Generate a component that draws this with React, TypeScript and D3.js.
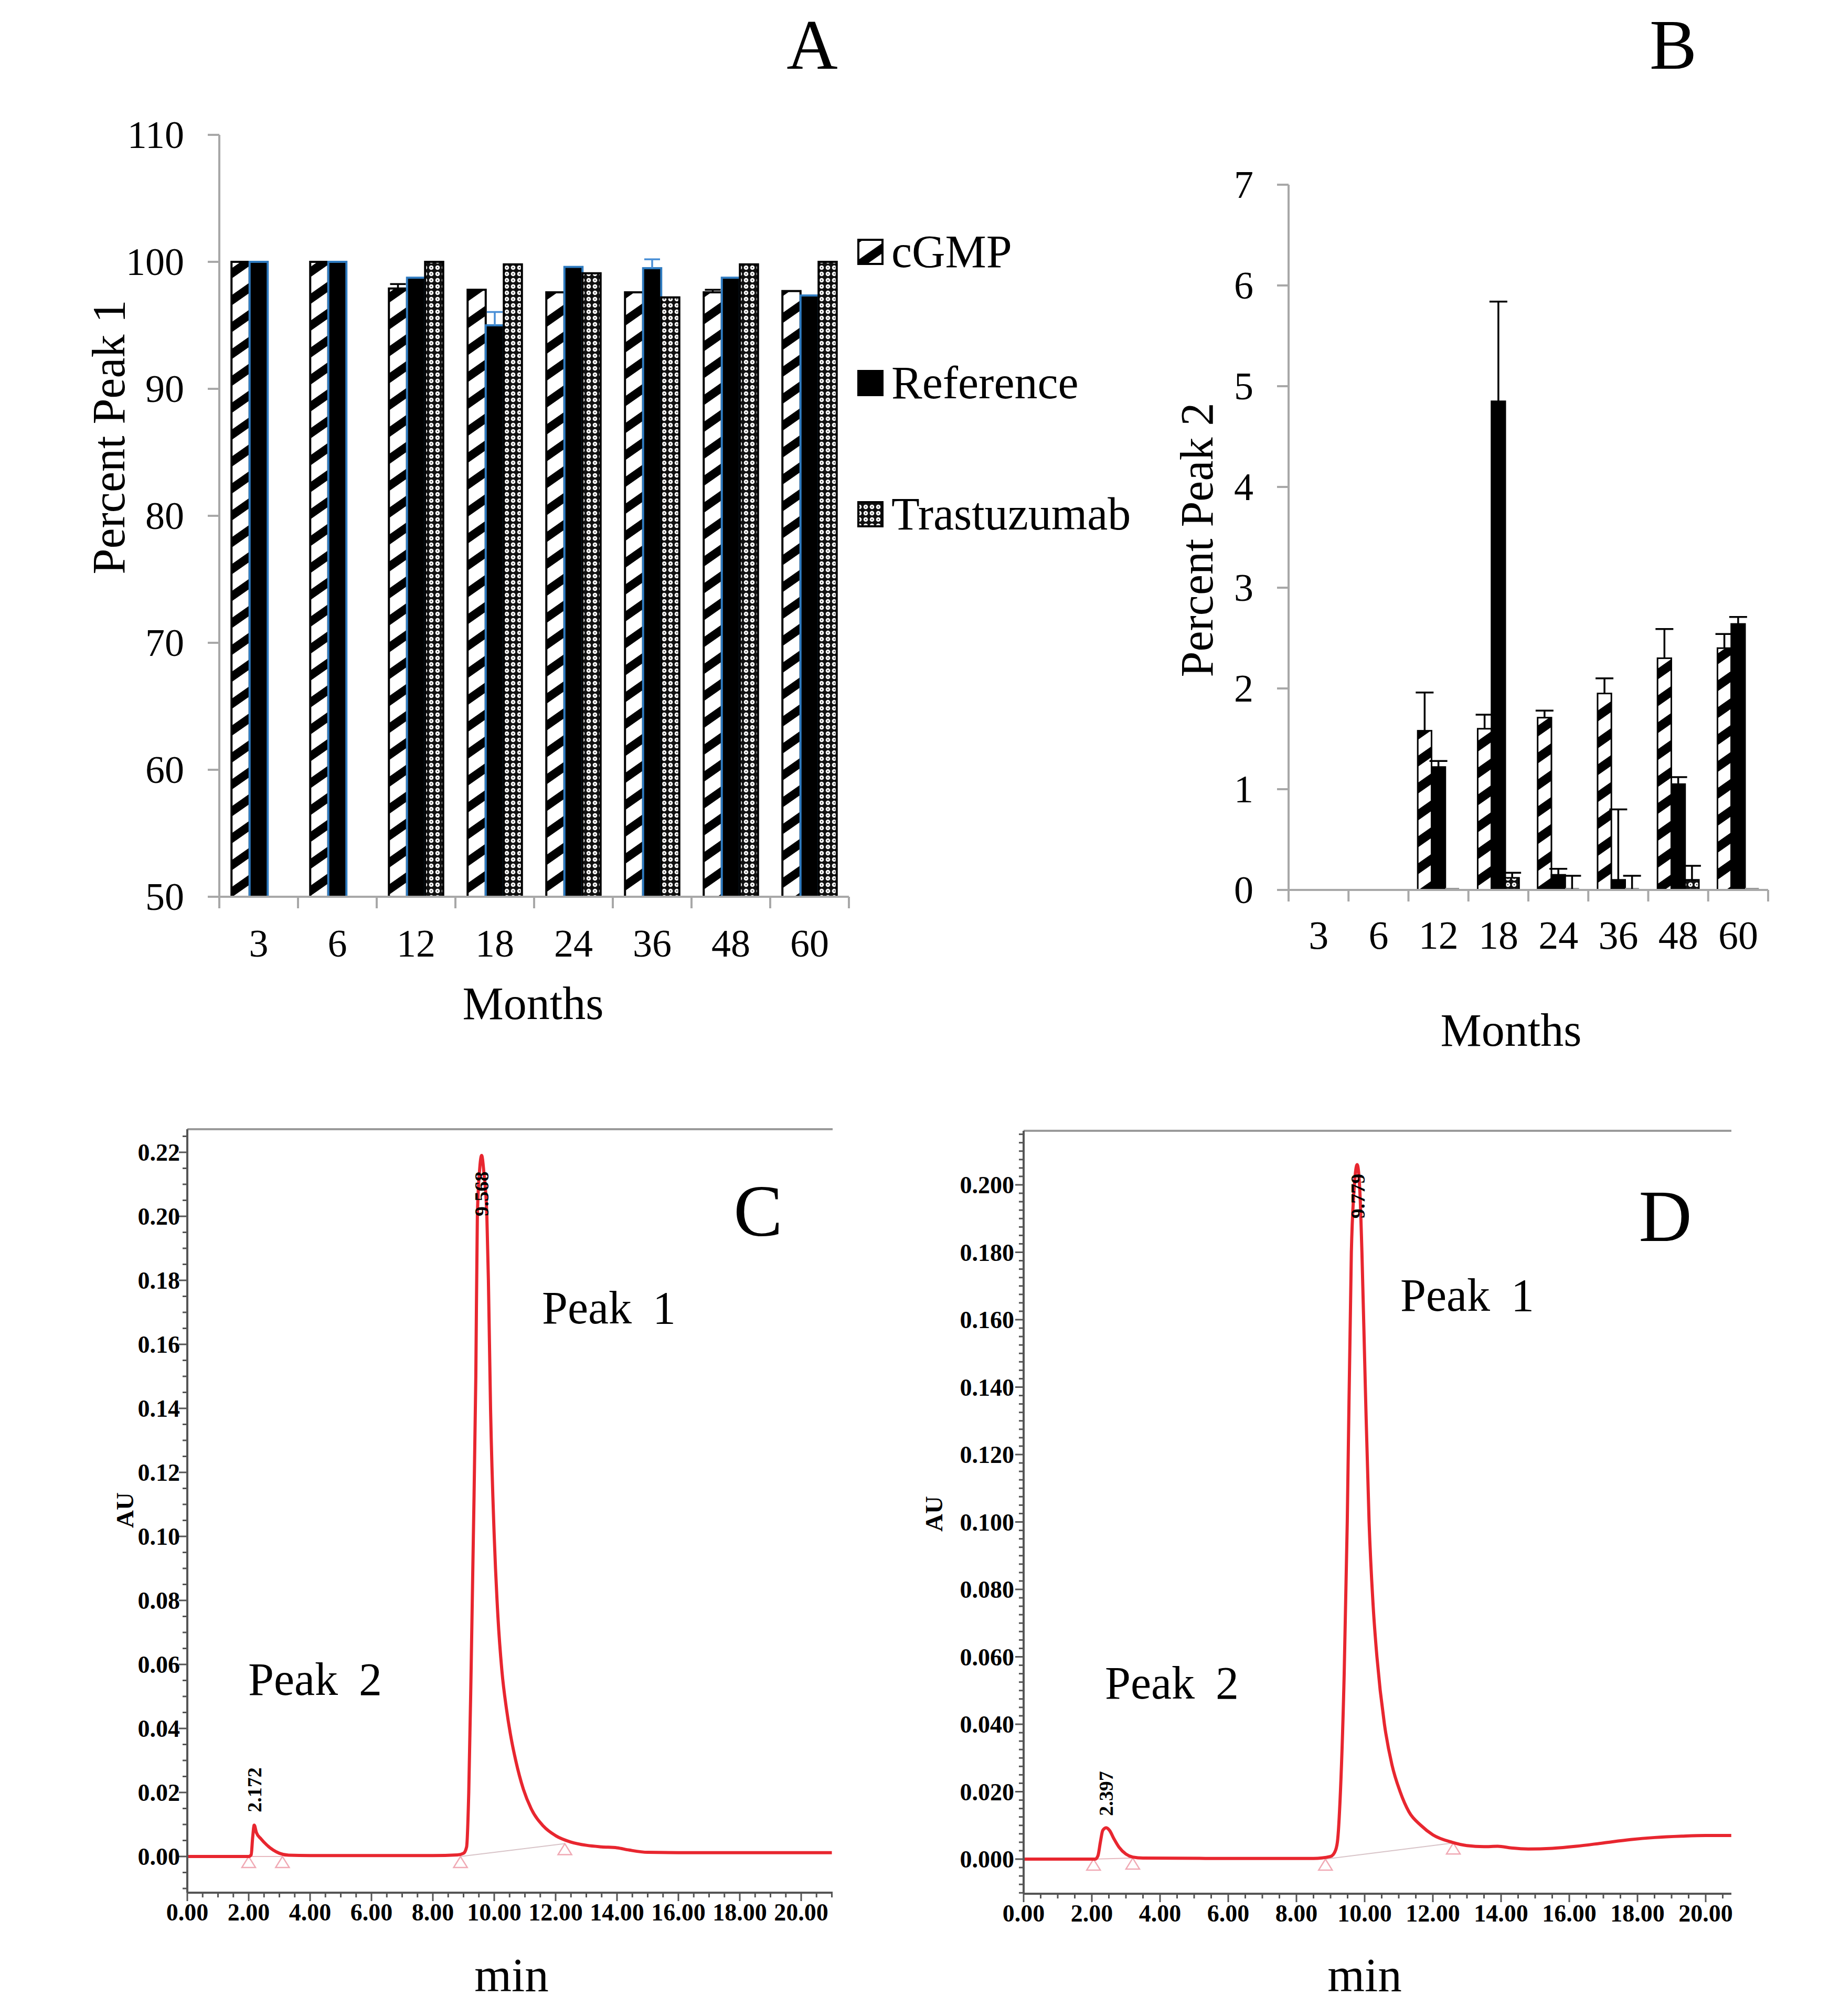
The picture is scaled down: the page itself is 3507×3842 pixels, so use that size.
import React from "react";
import * as d3 from "d3";

// ---------------- DATA ----------------
const months = ["3", "6", "12", "18", "24", "36", "48", "60"];
const seriesNames = ["cGMP", "Reference", "Trastuzumab"];

// Panel A: Percent Peak 1
const peak1Cgmp = [100, 100, 97.9, 97.8, 97.6, 97.6, 97.6, 97.7];
const peak1CgmpErr = [0, 0, 0.35, 0, 0, 0, 0.2, 0];
const peak1Ref = [100, 100, 98.75, 95.0, 99.6, 99.5, 98.75, 97.35];
const peak1RefErr = [0, 0, 0, 1.05, 0, 0.7, 0, 0];
const peak1Trast: (number | null)[] = [null, null, 100, 99.8, 99.1, 97.2, 99.8, 100];

// Panel B: Percent Peak 2
const peak2Cgmp: (number | null)[] = [null, null, 1.58, 1.6, 1.71, 1.95, 2.3, 2.4];
const peak2CgmpErr: (number | null)[] = [null, null, 0.38, 0.14, 0.07, 0.15, 0.29, 0.14];
const peak2Ref: (number | null)[] = [null, null, 1.22, 4.85, 0.15, 0.1, 1.05, 2.64];
const peak2RefErr: (number | null)[] = [null, null, 0.06, 0.99, 0.06, 0.7, 0.07, 0.07];
const peak2Trast: (number | null)[] = [null, null, 0, 0.12, 0, 0, 0.1, 0];
const peak2TrastErr: (number | null)[] = [null, null, 0, 0.05, 0.14, 0.14, 0.14, 0];

// Panel C: chromatogram (min, AU)
const traceCTime = [0, 2.0, 2.08, 2.13, 2.18, 2.25, 2.4, 2.6, 2.8, 3.0, 3.3, 4.0, 6.0, 8.0, 8.8, 9.0, 9.1, 9.17, 9.25, 9.32, 9.4, 9.45, 9.52, 9.59, 9.66, 9.76, 9.81, 9.88, 10.0, 10.12, 10.25, 10.4, 10.55, 10.7, 10.95, 11.2, 11.6, 12.0, 12.5, 13.0, 13.5, 14.0, 14.4, 15.0, 16.0, 18.0, 21.0];
const traceCAU = [0, 0, 0.0005, 0.006, 0.0098, 0.0075, 0.0055, 0.0035, 0.002, 0.001, 0.0004, 0.0003, 0.0003, 0.0003, 0.0005, 0.001, 0.003, 0.02, 0.06, 0.1, 0.15, 0.2, 0.214, 0.219, 0.214, 0.2, 0.18, 0.14, 0.1, 0.075, 0.058, 0.046, 0.037, 0.03, 0.021, 0.015, 0.0095, 0.0065, 0.0045, 0.0035, 0.003, 0.0027, 0.002, 0.0013, 0.0012, 0.0012, 0.0012];
const peakCTimes = [2.172, 9.568];
const peakCLabels = ["2.172", "9.568"];
const peakCLabelAU = [0.0138, 0.2];
const intCTimes = [2.0, 3.1, 8.9, 12.3];
const intCAU = [0, 0, 0, 0.004];

// Panel D: chromatogram (min, AU)
const traceDTime = [0, 2.1, 2.18, 2.25, 2.32, 2.42, 2.52, 2.65, 2.8, 3.0, 3.2, 3.5, 6.0, 8.5, 9.0, 9.12, 9.2, 9.29, 9.4, 9.49, 9.61, 9.7, 9.78, 9.86, 9.92, 10.02, 10.13, 10.25, 10.36, 10.58, 10.8, 11.04, 11.3, 11.65, 12.0, 12.56, 13.0, 13.5, 13.9, 14.3, 14.8, 15.5, 16.2, 17.0, 17.8, 18.5, 19.3, 20.0, 20.75];
const traceDAU = [0, 0, 0.001, 0.005, 0.0085, 0.0093, 0.0085, 0.006, 0.0035, 0.0015, 0.0006, 0.0003, 0.0002, 0.0002, 0.0008, 0.002, 0.005, 0.02, 0.055, 0.1, 0.18, 0.2, 0.206, 0.198, 0.18, 0.14, 0.1, 0.075, 0.06, 0.04, 0.028, 0.02, 0.014, 0.01, 0.0072, 0.005, 0.004, 0.0037, 0.0038, 0.0033, 0.003, 0.0032, 0.0038, 0.0048, 0.0058, 0.0064, 0.0068, 0.007, 0.007];
const peakDTimes = [2.397, 9.779];
const peakDLabels = ["2.397", "9.779"];
const peakDLabelAU = [0.0128, 0.19];
const intDTimes = [2.05, 3.2, 8.85, 12.6];
const intDAU = [0, 0.0003, 0, 0.0048];

const minTicks = d3.range(0, 21, 2);
const cAUTicks = d3.range(0, 12).map((k) => k * 0.02);
const dAUTicks = d3.range(0, 11).map((k) => k * 0.02);

// ---------------- STYLE ----------------
const SERIF = "'Liberation Serif', 'Times New Roman', serif";
const AXIS_GRAY = "#a8a8a8";
const REF_BLUE = "#2f7bc0";
const TRACE_RED = "#e8262f";

type BarPanelProps = {
  id: string;
  x0: number; x1: number; yTop: number; yBot: number; yDomain: [number, number];
  yTicks: number[];
  series: (number | null)[][];
  errs: (number | null)[][];
  refBlue: boolean;
};

function BarPanel(p: BarPanelProps) {
  const x = d3.scaleBand<string>().domain(months).range([p.x0, p.x1]);
  const y = d3.scaleLinear().domain(p.yDomain).range([p.yBot, p.yTop]);
  const bw = x.bandwidth() * 0.23;
  const off = (x.bandwidth() - 3 * bw) / 2;
  const fills = [`url(#hatch${p.id})`, "#000", `url(#check${p.id})`];
  const base = p.yDomain[0];
  const els: React.ReactNode[] = [];
  months.forEach((m, i) => {
    p.series.forEach((vals, s) => {
      const v = vals[i];
      if (v === null || v === undefined) return;
      const bx = (x(m) as number) + off + s * bw;
      if (v <= base) {
        els.push(<line key={`z${i}-${s}`} x1={bx} x2={bx + bw} y1={y(base) - 2} y2={y(base) - 2} stroke="#999" strokeWidth={4} />);
        return;
      }
      const isRef = s === 1;
      els.push(
        <rect key={`b${i}-${s}`} x={bx} y={y(v)} width={bw} height={y(base) - y(v)} fill={fills[s]}
          stroke={isRef && p.refBlue ? REF_BLUE : "#000"} strokeWidth={p.refBlue ? 4 : 3} />
      );
    });
  });
  const errEls: React.ReactNode[] = [];
  months.forEach((m, i) => {
    p.series.forEach((vals, s) => {
      const v = vals[i];
      const e = p.errs[s] ? p.errs[s][i] : null;
      if (v === null || v === undefined || !e) return;
      const cx = (x(m) as number) + off + s * bw + bw / 2;
      const col = s === 1 && p.refBlue ? "#4a8fd6" : "#000";
      const top = y(v + e);
      const cw = p.refBlue ? 15 : 17;
      errEls.push(
        <g key={`e${i}-${s}`} stroke={col} strokeWidth={3.5}>
          <line x1={cx} x2={cx} y1={y(Math.max(v, base))} y2={top} />
          <line x1={cx - cw} x2={cx + cw} y1={top} y2={top} />
        </g>
      );
    });
  });
  return (
    <g>
      {els}
      {errEls}
      {/* axes */}
      <line x1={p.x0} x2={p.x0} y1={p.yTop} y2={p.yBot} stroke={AXIS_GRAY} strokeWidth={4} />
      <line x1={p.x0 - 22} x2={p.x1} y1={p.yBot} y2={p.yBot} stroke={AXIS_GRAY} strokeWidth={4} />
      {p.yTicks.map((t) => (
        <g key={`yt${t}`}>
          <line x1={p.x0 - 22} x2={p.x0} y1={y(t)} y2={y(t)} stroke={AXIS_GRAY} strokeWidth={4} />
          <text x={p.x0 - 67} y={y(t) + 25} textAnchor="end" fontFamily={SERIF} fontSize={74}>{t}</text>
        </g>
      ))}
      {d3.range(0, months.length + 1).map((k) => {
        const xx = p.x0 + k * x.step();
        return <line key={`xt${k}`} x1={xx} x2={xx} y1={p.yBot} y2={p.yBot + 22} stroke={AXIS_GRAY} strokeWidth={4} />;
      })}
    </g>
  );
}

type ChromProps = {
  x0: number; xEnd: number; x20: number;
  yZero: number; yPerUnit: number; yTopPx: number; yBotPx: number;
  ticks: number[]; tickFmt: (n: number) => string;
  minorY: number; minorYEvery: number;
  time: number[]; au: number[];
  peakT: number[]; peakLab: string[]; peakAU: number[];
  intT: number[]; intAU: number[];
  labelRight: number;
};

function Chrom(p: ChromProps) {
  const x = d3.scaleLinear().domain([0, 20]).range([p.x0, p.x20]);
  const y = d3.scaleLinear().domain([0, 0.1]).range([p.yZero, p.yZero - p.yPerUnit * 0.1]);
  const tMax = x.invert(p.xEnd);
  const auMin = y.invert(p.yBotPx);
  const auMax = y.invert(p.yTopPx);
  const line = d3.line<number>().x((d, i) => x(p.time[i])).y((d) => y(d)).curve(d3.curveMonotoneX);
  const minorX: React.ReactNode[] = [];
  for (let k = 0; k * 0.5 <= tMax + 1e-9; k++) {
    const t = k * 0.5;
    const major = k % 4 === 0;
    minorX.push(<line key={`mx${k}`} x1={x(t)} x2={x(t)} y1={p.yBotPx} y2={p.yBotPx + (major ? 16 : 9)} stroke="#555" strokeWidth={3} />);
  }
  const minorYs: React.ReactNode[] = [];
  const kStart = Math.ceil(auMin / p.minorY);
  const kEnd = Math.floor(auMax / p.minorY);
  for (let k = kStart; k <= kEnd; k++) {
    const v = k * p.minorY;
    const major = k % p.minorYEvery === 0;
    minorYs.push(<line key={`my${k}`} x1={p.x0 - (major ? 16 : 9)} x2={p.x0} y1={y(v)} y2={y(v)} stroke="#555" strokeWidth={3} />);
  }
  return (
    <g>
      {/* top frame line */}
      <line x1={p.x0} x2={p.xEnd} y1={p.yTopPx} y2={p.yTopPx} stroke="#9a9a9a" strokeWidth={4} />
      {/* integration baselines */}
      <line x1={x(p.intT[0])} x2={x(p.intT[1])} y1={y(p.intAU[0])} y2={y(p.intAU[1])} stroke="#e6b9bf" strokeWidth={2} />
      <line x1={x(p.intT[2])} x2={x(p.intT[3])} y1={y(p.intAU[2])} y2={y(p.intAU[3])} stroke="#d8c4c8" strokeWidth={2} />
      {p.intT.map((t, i) => {
        const cx = x(t);
        const cy = y(p.intAU[i]);
        return <path key={`tri${i}`} d={`M${cx},${cy} L${cx - 13},${cy + 21} L${cx + 13},${cy + 21} Z`} fill="none" stroke="#f0a9b4" strokeWidth={2.5} />;
      })}
      <path d={line(p.au) || ""} fill="none" stroke={TRACE_RED} strokeWidth={6} strokeLinejoin="round" />
      {/* axes */}
      <line x1={p.x0} x2={p.x0} y1={p.yTopPx} y2={p.yBotPx} stroke="#555" strokeWidth={4} />
      <line x1={p.x0} x2={p.xEnd} y1={p.yBotPx} y2={p.yBotPx} stroke="#555" strokeWidth={4} />
      {minorX}
      {minorYs}
      {p.ticks.map((t) => (
        <text key={`yl${t}`} x={p.labelRight} y={y(t) + 16} textAnchor="end" fontFamily={SERIF} fontWeight="bold" fontSize={46}>{p.tickFmt(t)}</text>
      ))}
      {minTicks.map((t) => (
        <text key={`xl${t}`} x={x(t)} y={p.yBotPx + 53} textAnchor="middle" fontFamily={SERIF} fontWeight="bold" fontSize={46}>{d3.format(".2f")(t)}</text>
      ))}
      {p.peakT.map((t, i) => (
        <text key={`pk${i}`} transform={`translate(${x(t) + 14},${y(p.peakAU[i])}) rotate(-90)`} fontFamily={SERIF} fontWeight="bold" fontSize={38} textAnchor="start">{p.peakLab[i]}</text>
      ))}
    </g>
  );
}

export default function App() {
  const W = 3507;
  const H = 3842;
  return (
    <svg width={W} height={H} viewBox={`0 0 ${W} ${H}`} style={{ position: "absolute", left: 0, top: 0, background: "#fff" }}>
      <defs>
        <pattern id="hatchA" patternUnits="userSpaceOnUse" width={42} height={20} patternTransform="rotate(55)">
          <rect width={42} height={20} fill="#fff" />
          <rect width={16} height={20} fill="#000" />
        </pattern>
        <pattern id="hatchB" patternUnits="userSpaceOnUse" width={42} height={20} patternTransform="rotate(55)">
          <rect width={42} height={20} fill="#fff" />
          <rect width={17} height={20} fill="#000" />
        </pattern>
        <pattern id="checkA" patternUnits="userSpaceOnUse" width={12} height={12}>
          <rect width={12} height={12} fill="#111" />
          <circle cx={6} cy={6} r={4.3} fill="#fff" />
          <circle cx={6} cy={6} r={1.2} fill="#333" />
        </pattern>
        <pattern id="checkB" patternUnits="userSpaceOnUse" width={12} height={12}>
          <rect width={12} height={12} fill="#111" />
          <circle cx={6} cy={6} r={4.3} fill="#fff" />
          <circle cx={6} cy={6} r={1.2} fill="#333" />
        </pattern>
      </defs>
      <rect width={W} height={H} fill="#fff" />

      {/* ---------- Panel A ---------- */}
      <text x={1548} y={131} textAnchor="middle" fontFamily={SERIF} fontSize={135}>A</text>
      <BarPanel id="A" x0={418} x1={1618} yTop={257} yBot={1709} yDomain={[50, 110]}
        yTicks={d3.range(50, 111, 10)}
        series={[peak1Cgmp, peak1Ref, peak1Trast]}
        errs={[peak1CgmpErr, peak1RefErr, []]} refBlue={true} />
      {months.map((m, i) => (
        <text key={`ax${m}`} x={418 + 150 * i + 75} y={1823} textAnchor="middle" fontFamily={SERIF} fontSize={74}>{m}</text>
      ))}
      <text x={1016} y={1942} textAnchor="middle" fontFamily={SERIF} fontSize={88}>Months</text>
      <text transform="translate(237,833) rotate(-90)" textAnchor="middle" fontFamily={SERIF} fontSize={88}>Percent Peak 1</text>
      {seriesNames.map((s, i) => {
        const cy = 480 + i * 250;
        const fill = i === 0 ? "url(#hatchA)" : i === 1 ? "#000" : "url(#checkA)";
        return (
          <g key={`lg${s}`}>
            <rect x={1636} y={cy - 23} width={46} height={46} fill={fill} stroke="#000" strokeWidth={4} />
            <text x={1699} y={cy + 29} fontFamily={SERIF} fontSize={88}>{s}</text>
          </g>
        );
      })}

      {/* ---------- Panel B ---------- */}
      <text x={3189} y={131} textAnchor="middle" fontFamily={SERIF} fontSize={135}>B</text>
      <BarPanel id="B" x0={2456} x1={3370} yTop={352} yBot={1696} yDomain={[0, 7]}
        yTicks={d3.range(0, 8)}
        series={[peak2Cgmp, peak2Ref, peak2Trast]}
        errs={[peak2CgmpErr, peak2RefErr, peak2TrastErr]} refBlue={false} />
      {months.map((m, i) => (
        <text key={`bx${m}`} x={2456 + (914 / 8) * i + 914 / 16} y={1808} textAnchor="middle" fontFamily={SERIF} fontSize={76}>{m}</text>
      ))}
      <text x={2880} y={1993} textAnchor="middle" fontFamily={SERIF} fontSize={88}>Months</text>
      <text transform="translate(2311,1029) rotate(-90)" textAnchor="middle" fontFamily={SERIF} fontSize={88}>Percent Peak 2</text>

      {/* ---------- Panel C ---------- */}
      <Chrom x0={357} xEnd={1587} x20={1527} yZero={3538} yPerUnit={6100} yTopPx={2152} yBotPx={3607}
        ticks={cAUTicks} tickFmt={d3.format(".2f")} minorY={0.005} minorYEvery={4}
        time={traceCTime} au={traceCAU} peakT={peakCTimes} peakLab={peakCLabels} peakAU={peakCLabelAU}
        intT={intCTimes} intAU={intCAU} labelRight={343} />
      <text x={1445} y={2355} textAnchor="middle" fontFamily={SERIF} fontSize={140}>C</text>
      <text x={1033} y={2522} fontFamily={SERIF} fontSize={88} wordSpacing={18}>Peak 1</text>
      <text x={473} y={3230} fontFamily={SERIF} fontSize={88} wordSpacing={18}>Peak 2</text>
      <text transform="translate(254,2878) rotate(-90)" textAnchor="middle" fontFamily={SERIF} fontWeight="bold" fontSize={47}>AU</text>
      <text x={975} y={3795} textAnchor="middle" fontFamily={SERIF} fontSize={91}>min</text>

      {/* ---------- Panel D ---------- */}
      <Chrom x0={1951} xEnd={3300} x20={3251} yZero={3543} yPerUnit={6425} yTopPx={2155} yBotPx={3609}
        ticks={dAUTicks} tickFmt={d3.format(".3f")} minorY={0.0025} minorYEvery={8}
        time={traceDTime} au={traceDAU} peakT={peakDTimes} peakLab={peakDLabels} peakAU={peakDLabelAU}
        intT={intDTimes} intAU={intDAU} labelRight={1933} />
      <text x={3174} y={2365} textAnchor="middle" fontFamily={SERIF} fontSize={140}>D</text>
      <text x={2669} y={2498} fontFamily={SERIF} fontSize={88} wordSpacing={18}>Peak 1</text>
      <text x={2106} y={3237} fontFamily={SERIF} fontSize={88} wordSpacing={18}>Peak 2</text>
      <text transform="translate(1796,2885) rotate(-90)" textAnchor="middle" fontFamily={SERIF} fontWeight="bold" fontSize={47}>AU</text>
      <text x={2601} y={3795} textAnchor="middle" fontFamily={SERIF} fontSize={91}>min</text>
    </svg>
  );
}
